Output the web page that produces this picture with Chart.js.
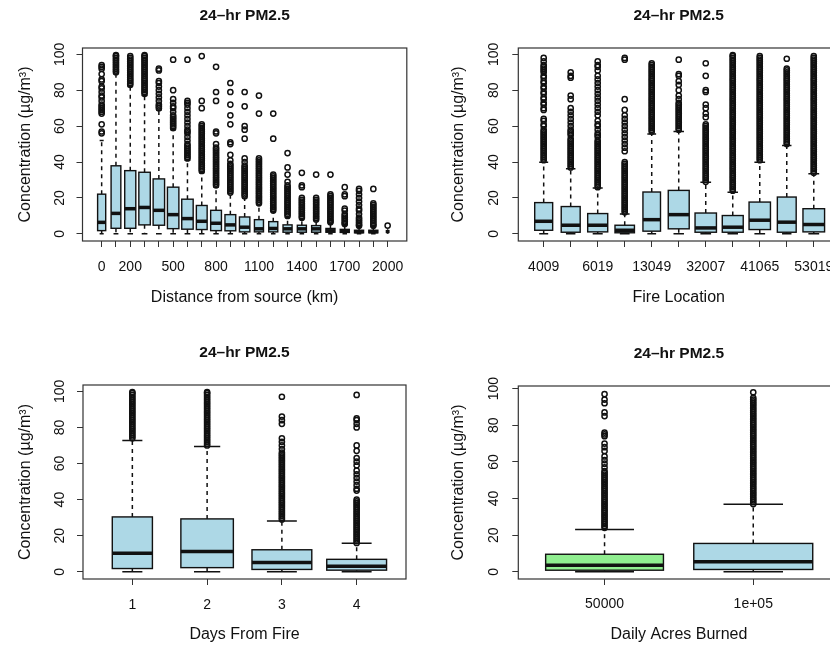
<!DOCTYPE html>
<html>
<head>
<meta charset="utf-8">
<script src="https://cdn.jsdelivr.net/npm/chart.js@4.4.1/dist/chart.umd.min.js"></script>
<style>
  html, body { margin: 0; padding: 0; background: #fff; }
  body { width: 830px; height: 649px; overflow: hidden; position: relative; }
  canvas { position: absolute; }
</style>
</head>
<body>
<canvas id="distChart" width="415" height="320" style="left:0;top:0"></canvas>
<canvas id="fireChart" width="430" height="320" style="left:415px;top:0"></canvas>
<canvas id="daysChart" width="415" height="329" style="left:0;top:320px"></canvas>
<canvas id="acresChart" width="430" height="329" style="left:415px;top:320px"></canvas>
<script>
// ---------- Data ----------
const yTicks = [0, 20, 40, 60, 80, 100];

// Distance from source (km)
const distCats = [0, 100, 200, 300, 400, 500, 600, 700, 800, 900, 1000, 1100, 1200, 1300, 1400, 1500, 1600, 1700, 1800, 1900, 2000];
const distShown = ['0', '200', '500', '800', '1100', '1400', '1700', '2000'];
const distLow = [0, 0, 0, 0, 0, 0, 0, 0, 0, 0, 0, 0, 0, 0, 0, 0, 0, 0, 0, 0, 0.5];
const distQ1 = [1.8, 3.1, 3.1, 5.0, 4.8, 2.9, 2.6, 2.4, 1.8, 1.7, 1.1, 1.1, 1.1, 0.9, 0.9, 0.9, 0.9, 0.8, 0.6, 0.6, 0.8];
const distMed = [6.4, 11.4, 14.0, 14.7, 13.1, 10.7, 8.5, 7.0, 5.9, 5.0, 3.7, 2.8, 3.0, 2.8, 2.8, 2.8, 1.7, 1.5, 1.2, 1.2, 1.2];
const distQ3 = [22.1, 37.9, 35.2, 34.3, 30.6, 26.0, 19.3, 15.8, 13.1, 10.7, 9.4, 7.9, 6.8, 5.0, 4.8, 4.6, 3.0, 2.5, 2.0, 2.0, 1.8];
const distHigh = [52, 89, 82, 77, 69, 58, 41, 34, 26, 22.5, 20, 16, 12.5, 9, 8, 7.5, 6, 5, 4, 4, 2.2];
const distN = [2000, 2900, 3750, 4000, 4000, 4000, 4000, 3550, 3550, 3550, 3300, 2500, 2500, 2500, 2500, 2500, 2500, 2500, 2500, 2500, 190];
const distOut = [
  [94, 93, 92, 89, 86, 85, 82, 81, 79, 77, 76, 74, 72, 71, 70, 69, 68, 67, 61, 57, 56],
  [99.5, 99, 98, 97, 96, 95, 94, 93, 92, 91, 90],
  [99, 98, 97, 96, 95, 94, 93, 92, 91, 90, 89, 88, 87, 86, 85, 84, 83],
  [99.5, 99, 98, 97, 96, 95, 94, 93, 92, 91, 90, 89, 88, 87, 86, 85, 84, 83, 82, 81, 80, 79, 78],
  [92, 91, 85, 84, 82, 80, 78, 76, 74, 72, 71, 70],
  [97, 80, 75, 73, 71, 70, 68, 66, 65, 64, 63, 62, 61, 60, 59],
  [97, 74, 73, 72, 70, 68, 66, 64, 62, 60, 58, 57, 56, 54, 52, 50, 49, 48, 47, 46, 45, 44, 43, 42],
  [99, 74, 70, 61, 60, 59, 58, 57, 56, 55, 54, 53, 52, 51, 50, 49, 48, 47, 46, 45, 44, 43, 42, 41, 40, 39, 38, 37, 36, 35],
  [93, 79, 74, 57, 56, 50, 48, 47, 46, 45, 44, 43, 42, 41, 40, 39, 38, 37, 36, 35, 34, 33, 32, 31, 30, 29, 28, 27],
  [84, 79, 72, 66, 61, 51, 50, 44, 41, 39, 38, 37, 36, 35, 34, 33, 32, 31, 30, 29, 28, 27, 26, 25, 24, 23],
  [79, 71, 60, 58, 53, 42, 40, 38, 37, 36, 35, 34, 33, 32, 31, 30, 29, 28, 27, 26, 25, 24, 23, 22, 21],
  [77, 67, 42, 41, 40, 39, 38, 37, 36, 35, 34, 33, 32, 31, 30, 29, 28, 27, 26, 25, 24, 23, 22, 21, 20, 19, 18, 17],
  [67, 53, 33, 32, 31, 30, 29, 28, 27, 26, 25, 24, 23, 22, 21, 20, 19, 18, 17, 16, 15, 14, 13],
  [45, 37, 33, 29, 27, 26, 25, 24, 23, 22, 21, 20, 19, 18, 17, 16, 15, 14, 13, 12, 11, 10],
  [34, 27, 26, 20, 19, 18, 17, 16, 15, 14, 13, 12, 11, 10, 9],
  [33, 20, 19, 18, 17, 16, 15, 14, 13, 12, 11, 10, 9, 8],
  [33, 22, 21, 20, 19, 18, 17, 16, 15, 14, 13, 12, 11, 10, 9, 8, 7, 6.5],
  [26, 22, 21, 14, 13, 11, 10, 9, 8, 7, 6, 5.5],
  [25, 24, 22, 20, 18, 16, 14, 13, 11, 9, 8, 7, 6, 5, 4.5],
  [25, 17, 16, 15, 14, 13, 12, 11, 10, 9, 8, 7, 6, 5, 4.5],
  [4.6]
];

// Fire location
const fireCats = ['4009', '', '6019', '', '13049', '', '32007', '', '41065', '', '53019'];
const fireLow = [0, 0, 0, 0, 0, 0, 0, 0, 0, 0, 0];
const fireQ1 = [2.0, 0.9, 1.1, 0.6, 1.5, 2.8, 0.9, 0.9, 2.4, 0.9, 1.1];
const fireMed = [7.0, 4.8, 4.8, 2.0, 7.9, 10.7, 3.3, 3.7, 7.6, 6.5, 5.2];
const fireQ3 = [17.4, 15.2, 11.3, 4.8, 23.3, 24.2, 11.6, 10.2, 17.7, 20.5, 14.0];
const fireHigh = [39.9, 36.2, 25.5, 11.1, 55.6, 57, 28.7, 23.1, 39.9, 49.2, 33.5];
const fireN = [6900, 7700, 8600, 8100, 6600, 9400, 9800, 9400, 9800, 7600, 10000];
const fireOut = [
  [98, 96, 94, 93, 92, 91, 90, 88, 87, 85, 84, 82, 81, 79, 78, 76, 75, 73, 72, 70, 69, 64, 63, 61, 60, 58, 57, 56, 55, 54, 53, 52, 51, 50, 49, 48, 47, 46, 45, 44, 43, 42, 41],
  [90, 88, 87, 77, 75, 70, 68, 66, 64, 62, 60, 58, 57, 56, 55, 53, 52, 51, 50, 49, 48, 47, 46, 45, 44, 43, 42, 41, 40, 39, 38, 37],
  [96, 94, 93, 91, 88, 86, 84, 82, 80, 78, 76, 74, 72, 70, 68, 66, 63, 61, 60, 58, 56, 55, 54, 52, 51, 50, 49, 48, 47, 46, 45, 44, 43, 42, 41, 40, 39, 38, 37, 36, 35, 34, 33, 32, 31, 30, 29, 28, 27, 26],
  [98, 97, 75, 69, 66, 64, 62, 60, 58, 56, 54, 52, 50, 48, 46, 40, 39, 38, 37, 36, 35, 34, 33, 32, 31, 30, 29, 28, 27, 26, 25, 24, 23, 22, 21, 20, 19, 18, 17, 16, 15, 14, 13, 12],
  [95, 94, 93, 92, 91, 90, 89, 88, 87, 86, 85, 84, 83, 82, 81, 80, 79, 78, 77, 76, 75, 74, 73, 72, 71, 70, 69, 68, 67, 66, 65, 64, 63, 62, 61, 60, 59, 58, 57],
  [97, 89, 88, 85, 83, 80, 77, 75, 73, 72, 71, 70, 69, 68, 67, 66, 65, 64, 63, 62, 61, 60, 59, 58],
  [95, 88, 80, 79, 72, 70, 67, 65, 61, 60, 59, 58, 57, 56, 55, 54, 53, 52, 51, 50, 49, 48, 47, 46, 45, 44, 43, 42, 41, 40, 39, 38, 37, 36, 35, 34, 33, 32, 31, 30, 29],
  [99.5, 99, 98, 97, 96, 95, 94, 93, 92, 91, 90, 89, 88, 87, 86, 85, 84, 83, 82, 81, 80, 79, 78, 77, 76, 75, 74, 73, 72, 71, 70, 69, 68, 67, 66, 65, 64, 63, 62, 61, 60, 59, 58, 57, 56, 55, 54, 53, 52, 51, 50, 49, 48, 47, 46, 45, 44, 43, 42, 41, 40, 39, 38, 37, 36, 35, 34, 33, 32, 31, 30, 29, 28, 27, 26, 25, 24],
  [99, 98, 97, 96, 95, 94, 93, 92, 91, 90, 89, 88, 87, 86, 85, 84, 83, 82, 81, 80, 79, 78, 77, 76, 75, 74, 73, 72, 71, 70, 69, 68, 67, 66, 65, 64, 63, 62, 61, 60, 59, 58, 57, 56, 55, 54, 53, 52, 51, 50, 49, 48, 47, 46, 45, 44, 43, 42, 41],
  [97.5, 92, 91, 90, 89, 88, 87, 86, 85, 84, 83, 82, 81, 80, 79, 78, 77, 76, 75, 74, 73, 72, 71, 70, 69, 68, 67, 66, 65, 64, 63, 62, 61, 60, 59, 58, 57, 56, 55, 54, 53, 52, 51, 50],
  [99, 98, 97, 96, 95, 94, 93, 92, 91, 90, 89, 88, 87, 86, 85, 84, 83, 82, 81, 80, 79, 78, 77, 76, 75, 74, 73, 72, 71, 70, 69, 68, 67, 66, 65, 64, 63, 62, 61, 60, 59, 58, 57, 56, 55, 54, 53, 52, 51, 50, 49, 48, 47, 46, 45, 44, 43, 42, 41, 40, 39, 38, 37, 36, 35, 34]
];

// Days from fire
const daysCats = ['1', '2', '3', '4'];
const daysLow = [0, 0, 0, 0];
const daysQ1 = [1.8, 2.3, 1.3, 0.9];
const daysMed = [10.2, 11.3, 5.2, 3.0];
const daysQ3 = [30.4, 29.3, 12.2, 6.9];
const daysHigh = [72.8, 69.4, 28.2, 15.8];
const daysN = [4500, 7700, 10000, 10000];
const daysOut = [
  [99.5, 99, 98, 97, 96, 95, 94, 93, 92, 91, 90, 89, 88, 87, 86, 85, 84, 83, 82, 81, 80, 79, 78, 77, 76, 75, 74],
  [99.5, 99, 98, 97, 96, 95, 94, 93, 92, 91, 90, 89, 88, 87, 86, 85, 84, 83, 82, 81, 80, 79, 78, 77, 76, 75, 74, 73, 72, 71, 70],
  [97, 86, 84, 82, 74, 72, 70, 68, 66, 65, 64, 63, 62, 61, 60, 59, 58, 57, 56, 55, 54, 53, 52, 51, 50, 49, 48, 47, 46, 45, 44, 43, 42, 41, 40, 39, 38, 37, 36, 35, 34, 33, 32, 31, 30, 29],
  [98, 85, 84, 82, 80, 70, 67, 63, 61, 59, 56, 54, 52, 50, 48, 46, 45, 40, 39, 38, 37, 36, 35, 34, 33, 32, 31, 30, 29, 28, 27, 26, 25, 24, 23, 22, 21, 20, 19, 18, 17, 16]
];

// Daily acres burned
const acresCats = ['50000', '1e+05'];
const acresLow = [0, 0];
const acresQ1 = [0.9, 1.3];
const acresMed = [3.6, 5.5];
const acresQ3 = [9.6, 15.5];
const acresHigh = [23.1, 36.9];
const acresN = [5000, 5100];
const acresOut = [
  [97, 94, 92, 87, 85, 76, 75, 74, 70, 68, 66, 63, 61, 59, 57, 55, 54, 53, 52, 51, 50, 49, 48, 47, 46, 45, 44, 43, 42, 41, 40, 39, 38, 37, 36, 35, 34, 33, 32, 31, 30, 29, 28, 27, 26, 25, 24],
  [98, 95, 94, 93, 92, 91, 90, 89, 88, 87, 86, 85, 84, 83, 82, 81, 80, 79, 78, 77, 76, 75, 74, 73, 72, 71, 70, 69, 68, 67, 66, 65, 64, 63, 62, 61, 60, 59, 58, 57, 56, 55, 54, 53, 52, 51, 50, 49, 48, 47, 46, 45, 44, 43, 42, 41, 40, 39, 38, 37]
];

// ---------- Styling ----------
const FONT = "'Liberation Sans', Arial, Helvetica, sans-serif";
const BLUE = '#ADD8E6';
const GREEN = '#90EE90';
Chart.defaults.font.family = FONT;
Chart.defaults.color = '#111';

// Box, whiskers, staples and median, R style
function boxPlugin(st, fills) {
  return {
    id: 'rbox',
    beforeDatasetsDraw(chart) {
      const { ctx, scales: { x, y } } = chart;
      const step = x.getPixelForValue(2) - x.getPixelForValue(1);
      const maxN = Math.max(...st.n);
      ctx.save();
      st.q1.forEach((q1, i) => {
        const cx = x.getPixelForValue(i + 1);
        const hw = 0.4 * step * Math.sqrt(st.n[i] / maxN);
        const yLo = y.getPixelForValue(st.low[i]);
        const yQ1 = y.getPixelForValue(q1);
        const yMed = y.getPixelForValue(st.med[i]);
        const yQ3 = y.getPixelForValue(st.q3[i]);
        const yHi = y.getPixelForValue(st.high[i]);

        // whiskers
        ctx.strokeStyle = '#111';
        ctx.lineWidth = 1.5;
        ctx.setLineDash([4, 4]);
        ctx.beginPath();
        ctx.moveTo(cx, yQ3); ctx.lineTo(cx, yHi);
        ctx.moveTo(cx, yQ1); ctx.lineTo(cx, yLo);
        ctx.stroke();
        ctx.setLineDash([]);

        // staples
        ctx.beginPath();
        ctx.moveTo(cx - hw / 2, yHi); ctx.lineTo(cx + hw / 2, yHi);
        ctx.moveTo(cx - hw / 2, yLo); ctx.lineTo(cx + hw / 2, yLo);
        ctx.stroke();

        // box
        ctx.fillStyle = fills[i];
        ctx.fillRect(cx - hw, yQ3, 2 * hw, yQ1 - yQ3);
        ctx.lineWidth = 1.4;
        ctx.strokeRect(cx - hw, yQ3, 2 * hw, yQ1 - yQ3);

        // median
        ctx.lineWidth = 3.5;
        ctx.beginPath();
        ctx.moveTo(cx - hw, yMed); ctx.lineTo(cx + hw, yMed);
        ctx.stroke();
      });
      ctx.restore();
    },
    afterDraw(chart) {
      const { ctx, chartArea: a } = chart;
      ctx.save();
      ctx.strokeStyle = '#333';
      ctx.lineWidth = 1.2;
      ctx.strokeRect(a.left, a.top, a.width, a.height);
      ctx.restore();
    }
  };
}

// Build one panel
function makePanel(id, st, lay) {
  const n = st.labels.length;
  const outData = st.out.flatMap((vals, i) => vals.map(v => ({ x: i + 1, y: v })));

  return new Chart(document.getElementById(id), {
    type: 'scatter',
    data: {
      datasets: [{
        data: outData,
        pointStyle: 'circle',
        pointRadius: 2.6,
        borderWidth: 1.5,
        borderColor: '#111',
        backgroundColor: 'rgba(0,0,0,0)'
      }]
    },
    plugins: [boxPlugin(st, lay.fills)],
    options: {
      responsive: false,
      animation: false,
      devicePixelRatio: 1,
      events: [],
      layout: { padding: { left: 0, right: lay.right, top: 0, bottom: 0 } },
      plugins: {
        legend: { display: false },
        tooltip: { enabled: false },
        title: {
          display: true,
          text: '24\u2013hr PM2.5',
          fullSize: false,
          font: { size: 15.5, weight: 'bold' },
          padding: lay.titlePad
        }
      },
      scales: {
        x: {
          type: 'linear',
          min: 0.5 - 0.04 * n,
          max: n + 0.5 + 0.04 * n,
          afterBuildTicks: s => { s.ticks = st.labels.map((_, i) => ({ value: i + 1 })); },
          afterFit: s => { s.height = lay.xH; },
          grid: { display: true, drawOnChartArea: false, drawTicks: true, tickLength: 6, color: '#333' },
          border: { display: false },
          ticks: {
            autoSkip: false,
            maxRotation: 0,
            padding: lay.xTickPad,
            font: { size: 14 },
            callback: v => st.tickText(Math.round(v) - 1)
          },
          title: { display: true, text: lay.xTitle, font: { size: 16 }, padding: { top: 0, bottom: lay.xTitlePad } }
        },
        y: {
          min: lay.yMin,
          max: lay.yMax,
          afterBuildTicks: s => { s.ticks = yTicks.map(v => ({ value: v })); },
          afterFit: s => { s.width = lay.yW; },
          grid: { display: true, drawOnChartArea: false, drawTicks: true, tickLength: 6, color: '#333' },
          border: { display: false },
          ticks: {
            minRotation: 90,
            maxRotation: 90,
            crossAlign: 'center',
            padding: lay.yTickPad,
            font: { size: 14 },
            callback: v => String(v)
          },
          title: { display: true, text: 'Concentration (\u00b5g/m\u00b3)', font: { size: 16 }, padding: { top: lay.yTitlePad, bottom: 0 } }
        }
      }
    }
  });
}

// Distance panel
makePanel('distChart', {
  labels: distCats, low: distLow, q1: distQ1, med: distMed, q3: distQ3, high: distHigh, n: distN, out: distOut,
  tickText: i => (distShown.includes(String(distCats[i])) ? String(distCats[i]) : '')
}, {
  fills: distCats.map(() => BLUE), right: 8, xH: 79, yW: 82.5,
  titlePad: { top: 6.7, bottom: 22.7 }, xTickPad: 11.3, xTitlePad: 13, yTitlePad: 15.5, yTickPad: 4.8,
  yMin: -3.98, yMax: 103.5, xTitle: 'Distance from source (km)'
});

// Fire location panel
makePanel('fireChart', {
  labels: fireCats, low: fireLow, q1: fireQ1, med: fireMed, q3: fireQ3, high: fireHigh, n: fireN, out: fireOut,
  tickText: i => fireCats[i] || ''
}, {
  fills: fireCats.map(() => BLUE), right: 4, xH: 79, yW: 103.3,
  titlePad: { top: 6.7, bottom: 22.7 }, xTickPad: 11.3, xTitlePad: 13, yTitlePad: 33.8, yTickPad: 6.3,
  yMin: -3.98, yMax: 103.5, xTitle: 'Fire Location'
});

// Days from fire panel
makePanel('daysChart', {
  labels: daysCats, low: daysLow, q1: daysQ1, med: daysMed, q3: daysQ3, high: daysHigh, n: daysN, out: daysOut,
  tickText: i => daysCats[i] || ''
}, {
  fills: daysCats.map(() => BLUE), right: 9, xH: 70, yW: 83,
  titlePad: { top: 23.7, bottom: 22.7 }, xTickPad: 11.6, xTitlePad: 4.7, yTitlePad: 15.5, yTickPad: 5.3,
  yMin: -4, yMax: 103.5, xTitle: 'Days From Fire'
});

// Acres burned panel
makePanel('acresChart', {
  labels: acresCats, low: acresLow, q1: acresQ1, med: acresMed, q3: acresQ3, high: acresHigh, n: acresN, out: acresOut,
  tickText: i => acresCats[i] || ''
}, {
  fills: [GREEN, BLUE], right: 4, xH: 70, yW: 103.3,
  titlePad: { top: 24, bottom: 23.4 }, xTickPad: 11, xTitlePad: 4.7, yTitlePad: 33.8, yTickPad: 6.3,
  yMin: -3.9, yMax: 101.4, xTitle: 'Daily Acres Burned'
});
</script>
</body>
</html>
